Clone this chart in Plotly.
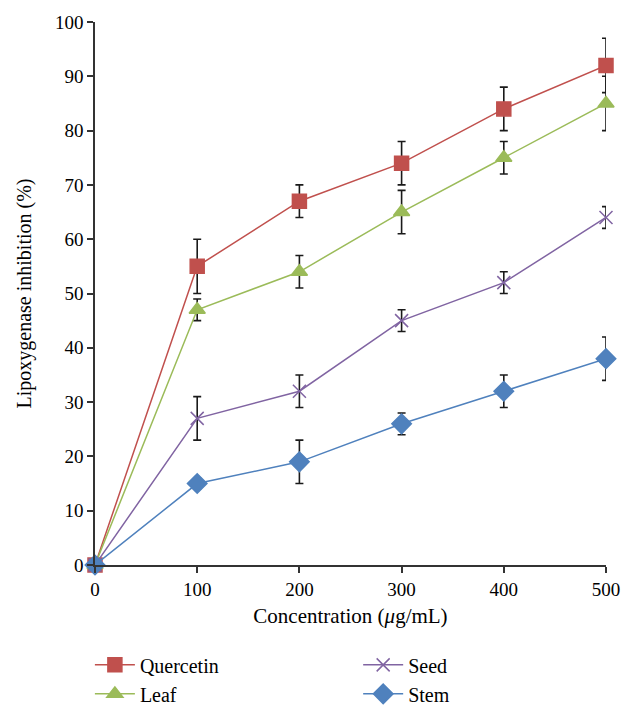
import plotly.graph_objects as go

# concentration (ug/mL)
conc = [0, 100, 200, 300, 400, 500]

# lipoxygenase inhibition (%) and error bar half-widths
quercetin = [0, 55, 67, 74, 84, 92]
quercetin_err = [0, 5, 3, 4, 4, 5]
leaf = [0, 47, 54, 65, 75, 85]
leaf_err = [0, 2, 3, 4, 3, 5]
seed = [0, 27, 32, 45, 52, 64]
seed_err = [0, 4, 3, 2, 2, 2]
stem = [0, 15, 19, 26, 32, 38]
stem_err = [0, 1, 4, 2, 3, 4]

FONT = "Liberation Serif"

def series(name, y, err, color, symbol, size, legend, lw=1.5):
	return go.Scatter(
		x=conc, y=y, name=name, mode="lines+markers",
		line=dict(color=color, width=lw),
		marker=dict(color=color, symbol=symbol, size=size,
			line=dict(color=color, width=1.5)),
		error_y=dict(type="data", array=err, visible=True,
			color="#1a1a1a", thickness=1.6, width=4),
		cliponaxis=False,
		legend=legend,
	)

data = [
	series("Quercetin", quercetin, quercetin_err, "#C0504D", "square", 14, "legend"),
	series("Leaf", leaf, leaf_err, "#9BBB59", "triangle-up", 14, "legend"),
	series("Seed", seed, seed_err, "#8064A2", "x-thin", 13, "legend2"),
	series("Stem", stem, stem_err, "#4F81BD", "diamond", 15, "legend2"),
]

legend_style = dict(
	yanchor="top", y=-0.148, xanchor="left",
	font=dict(family=FONT, size=20, color="black"), tracegroupgap=0,
	itemwidth=40, bgcolor="rgba(0,0,0,0)",
)

layout = go.Layout(
	width=636, height=715,
	paper_bgcolor="white", plot_bgcolor="white",
	margin=dict(l=95, r=30, t=22, b=150, autoexpand=False),
	font=dict(family=FONT, size=19, color="black"),
	xaxis=dict(
		range=[0, 500], tickvals=conc, showgrid=False, zeroline=False,
		showline=True, linecolor="#333333", linewidth=1.5,
		ticks="outside", ticklen=6, tickwidth=1.5, tickcolor="#333333",
		title=dict(text="Concentration (<i>μ</i>g/mL)", standoff=10,
			font=dict(family=FONT, size=21)),
	),
	yaxis=dict(
		range=[0, 100], dtick=10, showgrid=False, zeroline=False,
		showline=True, linecolor="#333333", linewidth=1.5,
		ticks="outside", ticklen=6, tickwidth=1.5, tickcolor="#333333",
		title=dict(text="Lipoxygenase inhibition (%)", standoff=18,
			font=dict(family=FONT, size=20)),
	),
	legend=dict(x=-0.01, **legend_style),
	legend2=dict(x=0.515, **legend_style),
)

fig = go.Figure(data=data, layout=layout)
# page body has an 8px default margin; drop it so the figure sits at 0,0
fig.write_html("out.html", config={"displayModeBar": False},
	post_script="document.body.style.margin='0';")
